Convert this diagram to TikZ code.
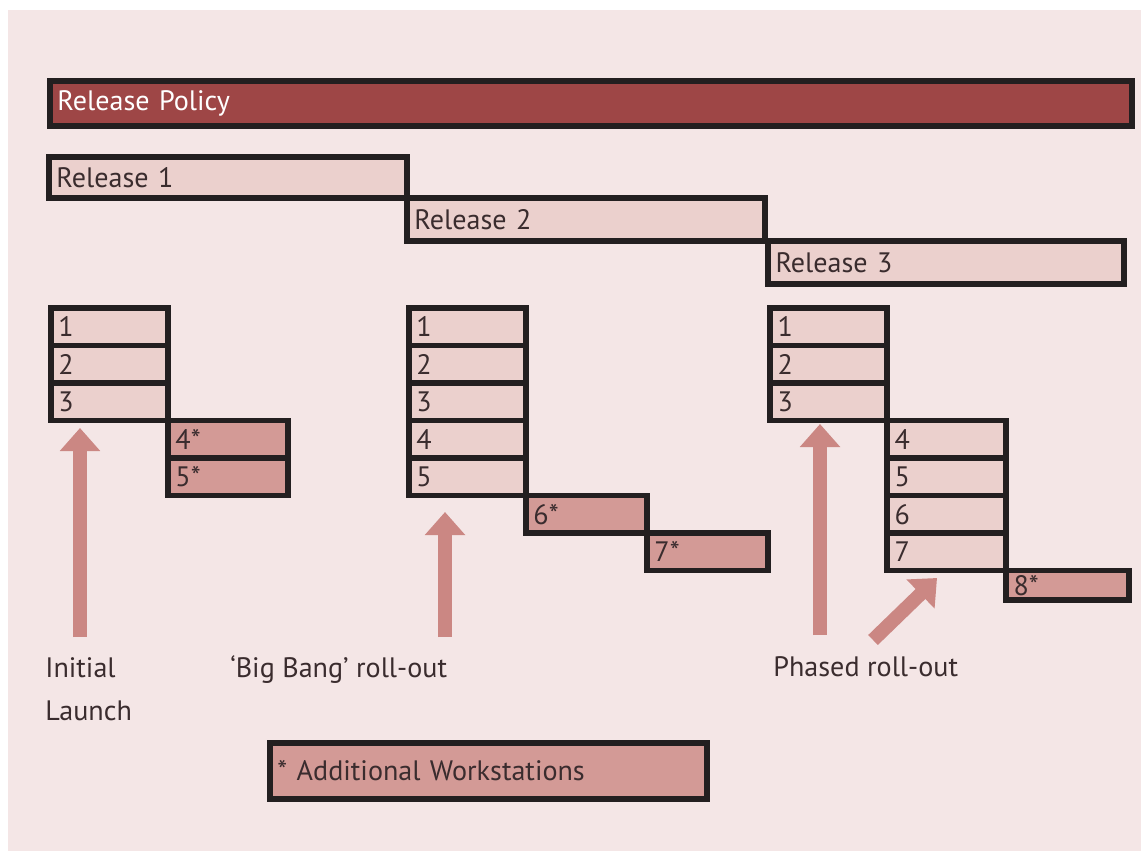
\documentclass[tikz,border=0pt]{standalone}
\usepackage{fontspec}
\setmainfont{PT Sans}
\usetikzlibrary{arrows.meta}

\definecolor{bgpink}{HTML}{F4E6E6}
\definecolor{policyred}{HTML}{9E4646}
\definecolor{lightcell}{HTML}{EBD0CD}
\definecolor{darkcell}{HTML}{D39A96}
\definecolor{edgeblack}{HTML}{231F20}
\definecolor{arrowpink}{HTML}{CB8783}
\definecolor{ink}{HTML}{3A2C2E}

\tikzset{
  cellbox/.style 2 args={draw=edgeblack, line width=3.4pt, fill=lightcell, anchor=north west,
    inner xsep=0.15cm, inner ysep=0pt, text width=#1*0.02cm-0.3cm, minimum height=#2*0.02cm, align=left},
  newbox/.style 2 args={cellbox={#1}{#2}, fill=darkcell},
  rollarrow/.style={draw=arrowpink, line width=7.9pt, -{Triangle[width=0.78cm, length=0.46cm]}, arrowpink},
  caption/.style={anchor=base west, inner sep=0pt, align=left}
}

\begin{document}
\begin{tikzpicture}[x=0.02cm, y=-0.02cm,
  every node/.style={font=\fontsize{16}{24.4}\selectfont, text=ink}]

  % background
  \useasboundingbox (0,0) rectangle (1141,851);
  \fill[bgpink] (8,10) rectangle (1141,851);

  % policy and releases
  \node[cellbox={1082}{45}, fill=policyred, text=white] (policy) at (47,78) {Release Policy};
  \node[cellbox={358}{41}] (rel1) at (46,154) {Release 1};
  \node[cellbox={358}{43}] (rel2) at (404,195) {Release 2};
  \node[cellbox={356}{43}] (rel3) at (765,238) {Release 3};

  % initial launch
  \node[cellbox={117}{37.5}] (a1) at (48,305) {1};
  \node[cellbox={117}{37.5}] (a2) at (48,342.5) {2};
  \node[cellbox={117}{37.5}] (a3) at (48,380) {3};
  \node[newbox={120}{37.5}] (a4) at (165,417.5) {4*};
  \node[newbox={120}{37.5}] (a5) at (165,455) {5*};

  % big bang
  \node[cellbox={117}{37.5}] (b1) at (406,305) {1};
  \node[cellbox={117}{37.5}] (b2) at (406,342.5) {2};
  \node[cellbox={117}{37.5}] (b3) at (406,380) {3};
  \node[cellbox={117}{37.5}] (b4) at (406,417.5) {4};
  \node[cellbox={117}{37.5}] (b5) at (406,455) {5};
  \node[newbox={121}{37.5}] (b6) at (523,492.5) {6*};
  \node[newbox={121}{37.5}] (b7) at (644,530) {7*};

  % phased
  \node[cellbox={117}{37.5}] (c1) at (767,305) {1};
  \node[cellbox={117}{37.5}] (c2) at (767,342.5) {2};
  \node[cellbox={117}{37.5}] (c3) at (767,380) {3};
  \node[cellbox={119}{37.5}] (c4) at (884,417.5) {4};
  \node[cellbox={119}{37.5}] (c5) at (884,455) {5};
  \node[cellbox={119}{37.5}] (c6) at (884,492.5) {6};
  \node[cellbox={119}{37.5}] (c7) at (884,530) {7};
  \node[newbox={123}{29.5}] (c8) at (1003,567.5) {8*};

  % arrows
  \coordinate (launchtail) at (80,637);
  \coordinate (launchtip) at (80,428);
  \coordinate (bangtail) at (445,637);
  \coordinate (bangtip) at (445,512);
  \coordinate (phasetail) at (820,635);
  \coordinate (phasetip) at (820,424);
  \coordinate (steptail) at (873,640);
  \coordinate (steptip) at (937,578);
  \draw[rollarrow] (launchtail) -- (launchtip);
  \draw[rollarrow] (bangtail) -- (bangtip);
  \draw[rollarrow] (phasetail) -- (phasetip);
  \draw[rollarrow] (steptail) -- (steptip);

  % captions
  \node[caption] (launch) at (45,720) {Initial\\Launch};
  \node[caption] (bang) at (230,677) {`Big Bang' roll-out};
  \node[caption] (phased) at (773,676) {Phased roll-out};

  % legend
  \node[newbox={437}{56}] (legend) at (267,740) {* Additional Workstations};
\end{tikzpicture}
\end{document}
